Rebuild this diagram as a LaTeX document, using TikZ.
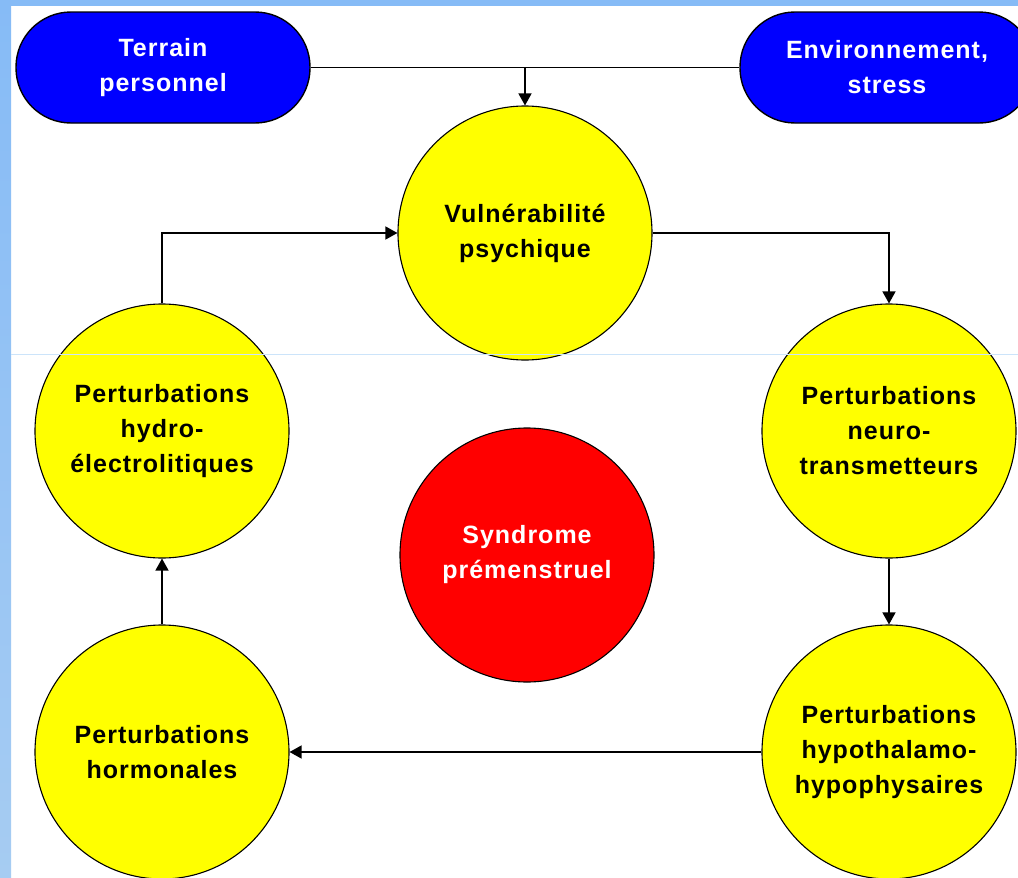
\documentclass[tikz,border=0pt]{standalone}
\usepackage{fontspec}
\setmainfont{Liberation Sans}
\newfontfamily\lblfont[LetterSpace=4]{Liberation Sans}
\usetikzlibrary{arrows.meta}
\definecolor{frameblue}{HTML}{86BBF6}
\definecolor{framelight}{HTML}{A6CCF2}
\definecolor{seamblue}{HTML}{CCE4FA}
\definecolor{boxblue}{HTML}{0000FF}
\definecolor{circyellow}{HTML}{FFFF00}
\definecolor{circred}{HTML}{FF0000}
\tikzset{
  lbl/.style={font=\lblfont\bfseries\fontsize{25}{35}\selectfont, align=center, inner sep=0pt},
  pill/.style={lbl, draw=black, line width=1.4pt, fill=boxblue, text=white,
    minimum width=294pt, minimum height=111pt, rounded corners=55pt},
  bubble/.style={lbl, circle, draw=black, line width=1.1pt, fill=circyellow,
    minimum size=254pt},
  redbubble/.style={bubble, fill=circred, text=white},
  link/.style={line width=1.4pt, draw=black},
  arr/.style={link, -{Triangle[width=13pt,length=12pt]}}
}
\begin{document}
\begin{tikzpicture}[x=1pt,y=-1pt]
\useasboundingbox (0,0) rectangle (1018,878);
\clip (0,0) rectangle (1018,878);
\fill[white] (0,0) rectangle (1018,878);
% frame strips
\shade[top color=frameblue, bottom color=framelight] (0,0) rectangle (11,878);
\fill[frameblue] (0,0) rectangle (1018,6);
% nodes
\node[pill] (terrain) at (163,67.5) {Terrain\\personnel};
\node[pill] (env) at (887,67.5) {Environnement,\\stress};
\node[bubble] (vuln) at (525,233) {Vulnérabilité\\psychique};
\node[bubble] (hydro) at (162,431) {Perturbations\\hydro-\\électrolitiques};
\node[bubble] (neuro) at (889,431) {Perturbations\\neuro-\\transmetteurs};
\node[redbubble] (spm) at (527,555) {Syndrome\\prémenstruel};
\node[bubble] (horm) at (162,752) {Perturbations\\hormonales};
\node[bubble] (hypo) at (889,752) {Perturbations\\hypothalamo-\\hypophysaires};
% connectors
\coordinate (join) at (525,67.5);
\draw[link] (terrain.east) -- (env.west);
\draw[arr] (join) -- (vuln.north);
\draw[arr] (hydro.north) |- (vuln.west);
\draw[arr] (vuln.east) -| (neuro.north);
\draw[arr] (neuro.south) -- (hypo.north);
\draw[arr] (hypo.west) -- (horm.east);
\draw[arr] (horm.north) -- (hydro.south);
% thin seam line
\draw[seamblue, line width=0.9pt] (11,354) -- (1018,354);
\end{tikzpicture}
\end{document}
